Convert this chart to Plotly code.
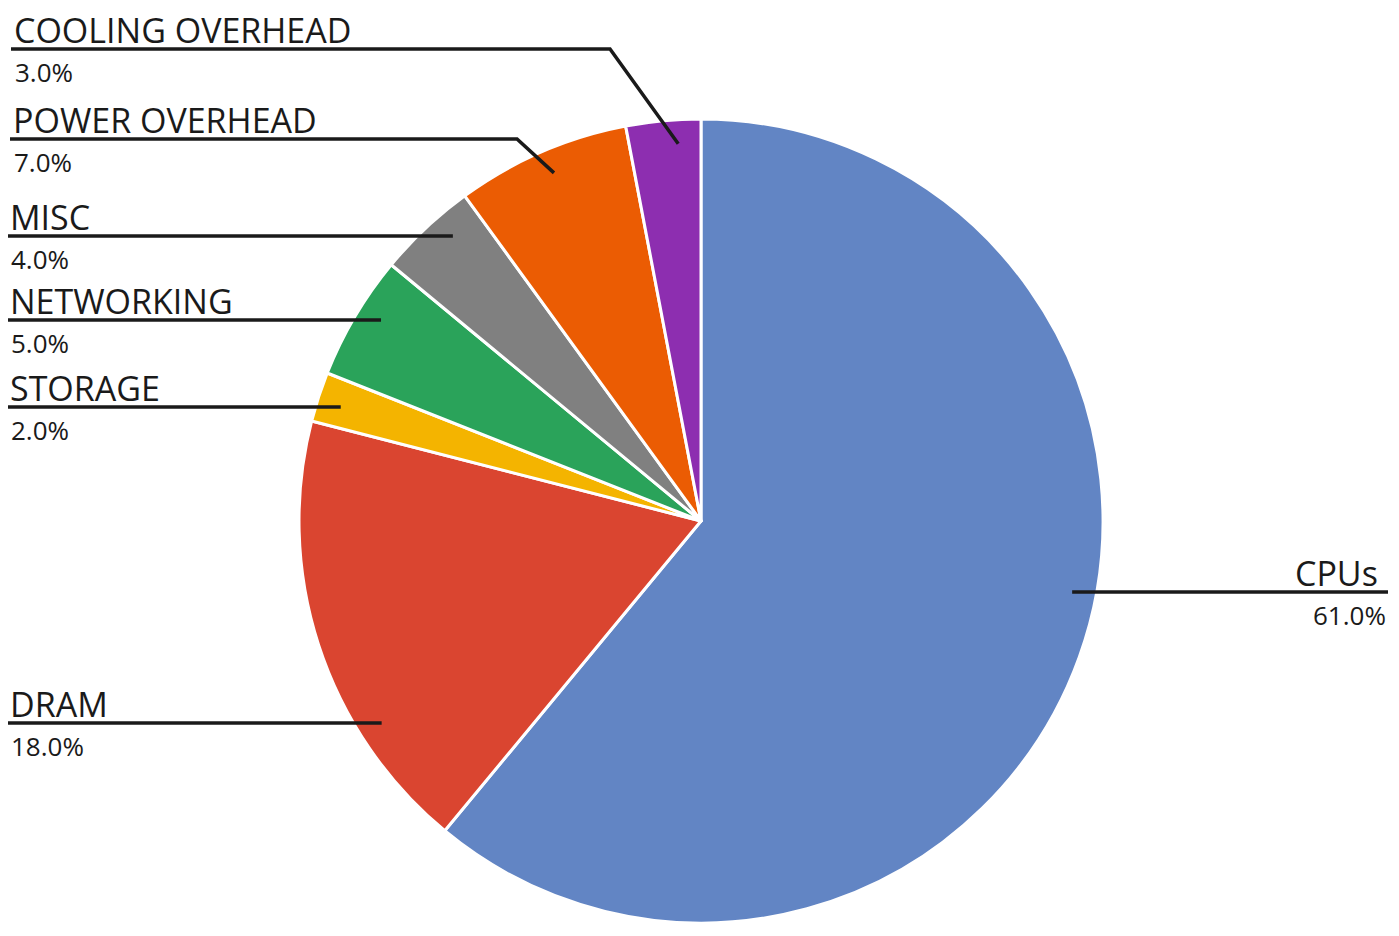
import math
import plotly.graph_objects as go

labels = ["CPUs", "DRAM", "STORAGE", "NETWORKING", "MISC", "POWER OVERHEAD", "COOLING OVERHEAD"]
values = [61.0, 18.0, 2.0, 5.0, 4.0, 7.0, 3.0]
colors = ["#6285c4", "#da4530", "#f4b400", "#2aa35a", "#808080", "#eb5c03", "#8d2eb0"]

# the page body adds an 8px margin, so the figure is drawn 8px smaller and offset
OFF = 8
W, H = 1399 - OFF, 936 - OFF
CX, CY, R = 701 - OFF, 521 - OFF, 402

# label rows (pixel y of the underline) and where each line starts
line_y = {"CPUs": 592, "DRAM": 723, "STORAGE": 407, "NETWORKING": 320,
          "MISC": 236, "POWER OVERHEAD": 139, "COOLING OVERHEAD": 49}
line_x0 = {"CPUs": 1388, "DRAM": 7, "STORAGE": 7, "NETWORKING": 7,
           "MISC": 7, "POWER OVERHEAD": 10, "COOLING OVERHEAD": 11}
# bent leaders: x of the bend, and where inside the slice the line ends (0..1)
kink_x = {"POWER OVERHEAD": 517, "COOLING OVERHEAD": 610}
anchor_frac = {"POWER OVERHEAD": 0.52, "COOLING OVERHEAD": 0.68}


def px(x):
    return x / W


def py(y):
    return 1 - y / H


fig = go.Figure(go.Pie(
    labels=labels, values=values, sort=False, direction="clockwise", rotation=0,
    marker=dict(colors=colors, line=dict(color="white", width=3)),
    textinfo="none", hoverinfo="label+percent",
    domain=dict(x=[px(CX - R), px(CX + R)], y=[py(CY + R), py(CY - R)]),
))

total = sum(values)
cum = 0
shapes = []
annotations = []
for lab, v in zip(labels, values):
    ang = (cum + v * anchor_frac.get(lab, 0.5)) / total * 2 * math.pi
    cum += v
    ly = line_y[lab] - OFF
    x0 = line_x0[lab] - OFF
    rr = 0.94 * R
    if lab in kink_x:
        ex = CX + rr * math.sin(ang)
        ey = CY - rr * math.cos(ang)
        pts = [(x0, ly), (kink_x[lab] - OFF, ly), (ex, ey)]
    else:
        dy = ly - CY
        dx = math.sqrt(rr ** 2 - dy ** 2)
        ex = CX + dx if lab == "CPUs" else CX - dx
        pts = [(x0, ly), (ex, ly)]
    path = "M " + " L ".join(f"{px(a)},{py(b)}" for a, b in pts)
    shapes.append(dict(type="path", xref="paper", yref="paper", path=path,
                       line=dict(color="#1a1a1a", width=3.5)))
    right = lab == "CPUs"
    tx = x0 - 8 if right else x0 + 1
    annotations.append(dict(
        x=px(tx), y=py(ly + 6), xref="paper", yref="paper",
        text=lab, showarrow=False, xanchor="right" if right else "left", yanchor="bottom",
        font=dict(family="Open Sans", size=34, color="#1a1a1a")))
    annotations.append(dict(
        x=px(x0 if right else x0 + 2), y=py(ly + 3), xref="paper", yref="paper",
        text=f"{v:.1f}%", showarrow=False, xanchor="right" if right else "left", yanchor="top",
        font=dict(family="Open Sans", size=26, color="#1a1a1a")))

fig.update_layout(
    width=W, height=H, margin=dict(l=0, r=0, t=0, b=0),
    paper_bgcolor="white", plot_bgcolor="white", showlegend=False,
    shapes=shapes, annotations=annotations,
)
fig.write_html("out.html")
